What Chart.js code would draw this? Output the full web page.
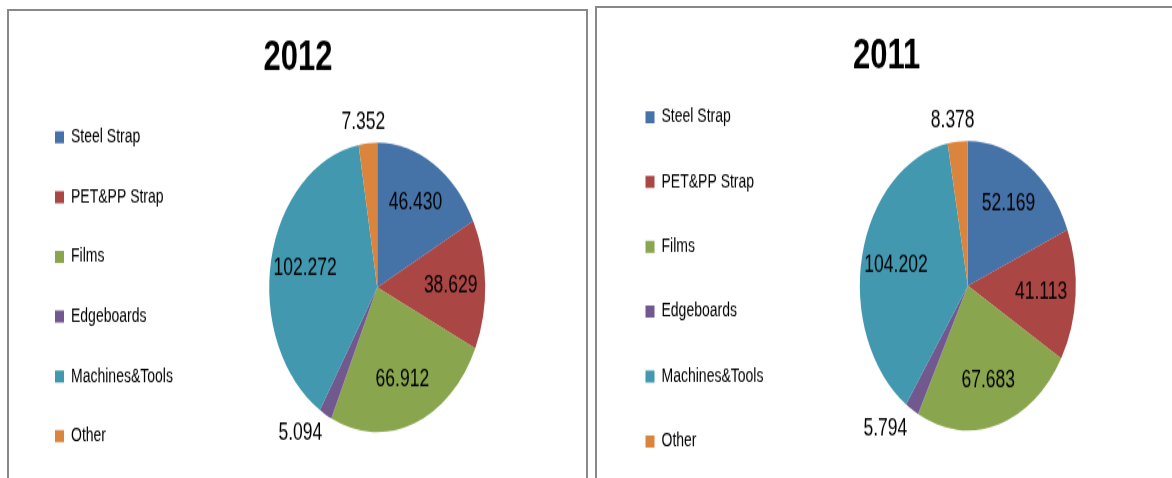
<!DOCTYPE html>
<html>
<head>
<meta charset="utf-8">
<script src="https://cdn.jsdelivr.net/npm/chart.js@4"></script>
<style>
  html, body { margin: 0; padding: 0; background: #fff; overflow: hidden; width: 1172px; height: 478px; }
  .painel { position: absolute; border: 2px solid #898989; background: #fff; overflow: hidden; }
  #p2012 { left: 7px; top: 9px; width: 577px; height: 480px; }
  #p2011 { left: 595px; top: 6px; width: 580px; height: 480px; }
  /* a figura original está esticada na vertical */
  canvas { display: block; transform-origin: 0 0; transform: scaleY(1.34); }
</style>
</head>
<body>
<div class="painel" id="p2012"><canvas id="c2012" width="577" height="377"></canvas></div>
<div class="painel" id="p2011"><canvas id="c2011" width="580" height="373"></canvas></div>
<script>
const categorias = ['Steel Strap', 'PET&PP Strap', 'Films', 'Edgeboards', 'Machines&Tools', 'Other'];
const valores2012 = [46.430, 38.629, 66.912, 5.094, 102.272, 7.352];
const valores2011 = [52.169, 41.113, 67.683, 5.794, 104.202, 8.378];
const cores = ['#4572A7', '#AA4643', '#89A54E', '#71588F', '#4198AF', '#DB843D'];

const fonte = '"Liberation Sans", Arial, sans-serif';

// rótulos de valor: dentro das fatias grandes, fora das pequenas
const rotulos = {
  id: 'rotulos',
  afterDatasetsDraw(chart) {
    const ctx = chart.ctx;
    const meta = chart.getDatasetMeta(0);
    const dados = chart.data.datasets[0].data;
    ctx.save();
    ctx.font = '17.5px ' + fonte;
    ctx.fillStyle = '#000';
    ctx.textAlign = 'center';
    ctx.textBaseline = 'middle';
    meta.data.forEach((arco, i) => {
      const { x, y, startAngle, endAngle, outerRadius } =
        arco.getProps(['x', 'y', 'startAngle', 'endAngle', 'outerRadius'], true);
      const meio = (startAngle + endAngle) / 2;
      const cos = Math.cos(meio), sin = Math.sin(meio);
      const texto = dados[i].toFixed(3);
      let px, py;
      if (endAngle - startAngle > 0.3) {
        px = x + cos * outerRadius * 0.68;
        py = y + sin * outerRadius * 0.68;
      } else {
        const meiaL = ctx.measureText(texto).width / 2;
        px = x + cos * (outerRadius + 9) + meiaL * Math.max(-1, Math.min(1, 2 * cos));
        py = y + sin * (outerRadius + 9) + 6.5 * Math.sign(sin);
      }
      ctx.fillText(texto, px, py);
    });
    ctx.restore();
  }
};

function criarGrafico(id, titulo, valores, cfg) {
  return new Chart(document.getElementById(id), {
    type: 'pie',
    data: {
      labels: categorias,
      datasets: [{ data: valores, backgroundColor: cores, borderWidth: 0, radius: 108 }]
    },
    options: {
      responsive: false,
      animation: false,
      devicePixelRatio: 1,
      layout: { padding: { top: cfg.topo, left: cfg.esq, right: cfg.dir, bottom: 0 } },
      plugins: {
        title: {
          display: true,
          text: titulo,
          color: '#000',
          padding: 0,
          font: { family: fonte, size: 31, weight: 'bold', lineHeight: cfg.linhaTitulo }
        },
        legend: {
          position: 'left',
          align: 'center',
          fullSize: true,
          labels: {
            boxWidth: 9,
            boxHeight: 9,
            padding: cfg.espaco,
            color: '#000',
            font: { family: fonte, size: 14 }
          }
        },
        tooltip: { enabled: false }
      }
    },
    plugins: [rotulos]
  });
}

criarGrafico('c2012', '2012', valores2012, { topo: 34.6, esq: 15.4, dir: 14.5, espaco: 30.6, linhaTitulo: 1 / 31 });
criarGrafico('c2011', '2011', valores2011, { topo: 31.8, esq: 14.1, dir: 14.8, espaco: 34.4, linhaTitulo: 9.6 / 31 });
</script>
</body>
</html>
